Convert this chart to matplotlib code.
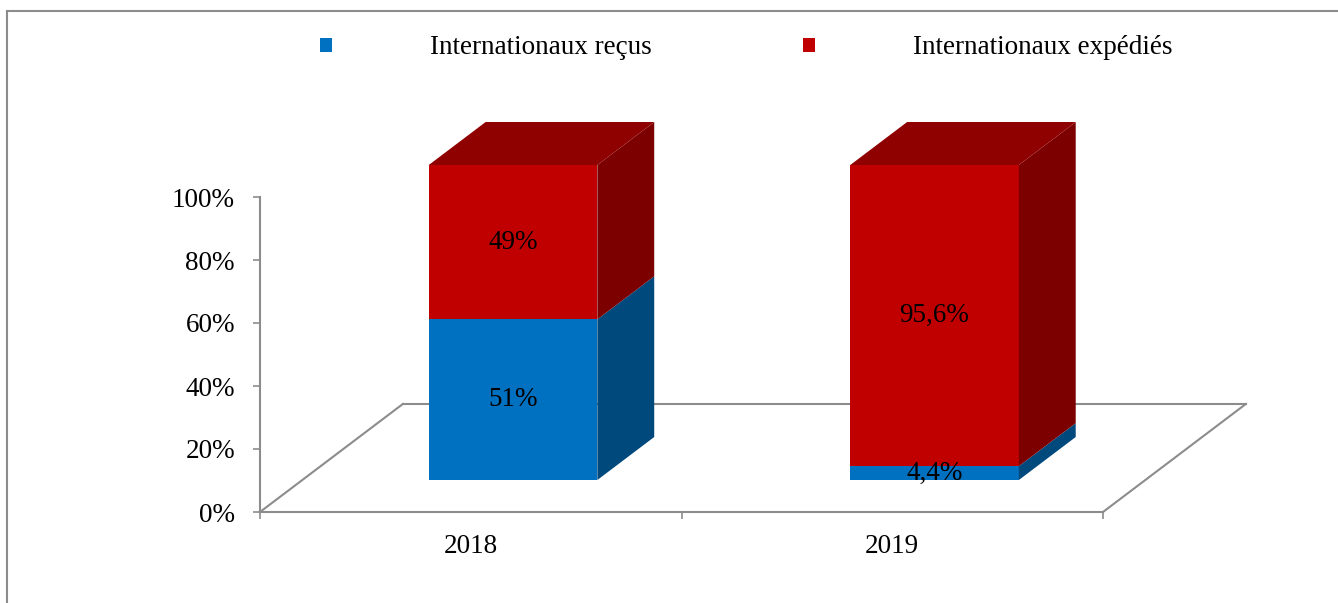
import matplotlib
matplotlib.use("Agg")
import matplotlib.pyplot as plt
from matplotlib.patches import Polygon, Patch
from matplotlib.lines import Line2D

# data
years = ["2018", "2019"]
recus = [51.0, 4.4]
expedies = [49.0, 95.6]
recus_labels = ["51%", "4,4%"]
expedies_labels = ["49%", "95,6%"]
series_names = ["Internationaux reçus", "Internationaux expédiés"]
yticks = [0, 20, 40, 60, 80, 100]

# colours: front, side, top
BLUE = ("#0070C0", "#00497D", "#005A96")
RED = ("#C00000", "#7D0000", "#8F0000")
AXIS = "#8C8C8C"
FS = 19.5

# fake 3d geometry (depth vector in data units, bar depth fractions)
DX, DY = 0.339, 34.3
BAR_W = 0.40
D_FRONT, D_BACK = 0.296, 0.694

W, H, DPI = 1338, 603, 100
plt.rcParams["font.family"] = ["Liberation Serif", "DejaVu Serif"]


def proj(x, z, d):
    return (x + d * DX, z + d * DY)


fig = plt.figure(figsize=(W / DPI, H / DPI), dpi=DPI)
ax = fig.add_axes([260 / W, (H - 512) / H, (1103 - 260) / W, (512 - 197) / H])
ax.set_xlim(-0.5, len(years) - 0.5)
ax.set_ylim(0, 100)

# floor
x_lo, x_hi = -0.5, len(years) - 0.5
for a, b in [((x_lo, 0, 0), (x_lo, 0, 1)), ((x_lo, 0, 1), (x_hi, 0, 1)), ((x_hi, 0, 0), (x_hi, 0, 1))]:
    p, q = proj(*a), proj(*b)
    ax.add_line(Line2D([p[0], q[0]], [p[1], q[1]], color=AXIS, lw=1.5, clip_on=False, zorder=1))

# bars
for i, year in enumerate(years):
    x0, x1 = i - BAR_W / 2, i + BAR_W / 2
    segs = [(0, recus[i], BLUE, recus_labels[i]),
            (recus[i], recus[i] + expedies[i], RED, expedies_labels[i])]
    for k, (b, t, cols, lab) in enumerate(segs):
        front = [proj(x0, b, D_FRONT), proj(x1, b, D_FRONT), proj(x1, t, D_FRONT), proj(x0, t, D_FRONT)]
        side = [proj(x1, b, D_FRONT), proj(x1, b, D_BACK), proj(x1, t, D_BACK), proj(x1, t, D_FRONT)]
        ax.add_patch(Polygon(front, closed=True, facecolor=cols[0], edgecolor="none", clip_on=False, zorder=3))
        ax.add_patch(Polygon(side, closed=True, facecolor=cols[1], edgecolor="none", clip_on=False, zorder=3))
        if k == len(segs) - 1:
            top = [proj(x0, t, D_FRONT), proj(x1, t, D_FRONT), proj(x1, t, D_BACK), proj(x0, t, D_BACK)]
            ax.add_patch(Polygon(top, closed=True, facecolor=cols[2], edgecolor="none", clip_on=False, zorder=3))
        cx, cy = proj(i, (b + t) / 2, D_FRONT)
        ax.text(cx, cy, lab, ha="center", va="center", fontsize=FS, color="black", zorder=5)

# axes styling
for s in ["top", "right"]:
    ax.spines[s].set_visible(False)
for s in ["left", "bottom"]:
    ax.spines[s].set_color(AXIS)
    ax.spines[s].set_linewidth(1.5)
ax.set_yticks(yticks)
ax.set_yticklabels([f"{v}%" for v in yticks], fontsize=FS)
ax.tick_params(axis="y", length=5, width=1.2, color=AXIS, pad=13)
ax.set_xticks(range(len(years)))
ax.set_xticklabels(years, fontsize=FS)
ax.tick_params(axis="x", which="major", length=0, pad=16)
ax.set_xticks([x_lo + j for j in range(len(years) + 1)], minor=True)
ax.tick_params(axis="x", which="minor", length=5, width=1.2, color=AXIS)
ax.patch.set_visible(False)

# legend
handles = [Patch(facecolor=BLUE[0], edgecolor="none"), Patch(facecolor=RED[0], edgecolor="none")]
fig.legend(handles, series_names, loc="center", bbox_to_anchor=(746 / W, 1 - 48 / H), ncol=2,
           frameon=False, fontsize=FS, handlelength=0.45, handleheight=0.45,
           handletextpad=3.6, columnspacing=5.6)

# outer chart border
fig.add_artist(Line2D([7 / W, 7 / W], [0, 1 - 11 / H], color=AXIS, lw=1.5))
fig.add_artist(Line2D([7 / W, 1.0], [1 - 11 / H, 1 - 11 / H], color=AXIS, lw=1.5))

fig.savefig("out.png", dpi=DPI)
